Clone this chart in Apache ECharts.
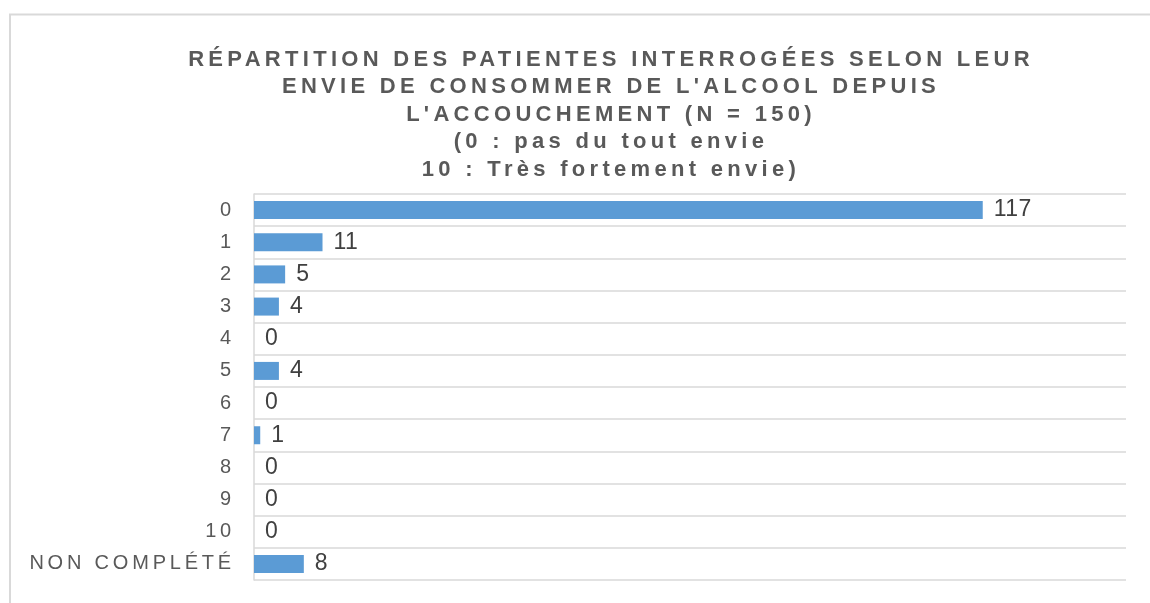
<!DOCTYPE html>
<html>
<head>
<meta charset="utf-8">
<script src="https://cdn.jsdelivr.net/npm/echarts@6/dist/echarts.min.js"></script>
<style>
  html, body { margin: 0; padding: 0; background: #fff; }
  #main { width: 1150px; height: 603px; }
</style>
</head>
<body>
<div id="main"></div>
<script>
// données
var categories = ['0', '1', '2', '3', '4', '5', '6', '7', '8', '9', '10', 'NON COMPLÉTÉ'];
var effectifs = [117, 11, 5, 4, 0, 4, 0, 1, 0, 0, 0, 8];
var titre = "RÉPARTITION DES PATIENTES INTERROGÉES SELON LEUR\nENVIE DE CONSOMMER DE L'ALCOOL DEPUIS\nL'ACCOUCHEMENT (N = 150)\n(0 : pas du tout envie\n10 : Très fortement envie)";

// espacement des caractères façon Excel (zrender ne gère pas letterSpacing)
var fillTextOrig = CanvasRenderingContext2D.prototype.fillText;
CanvasRenderingContext2D.prototype.fillText = function (t, x, y, w) {
    var m = /(\d+)px/.exec(this.font);
    var size = m ? +m[1] : 12;
    var ls = '0px';
    if (this.font.indexOf('bold') > -1) ls = '4.3px';   // titre
    else if (size == 20) ls = '3.8px';                 // libellés des catégories
    else if (size == 23) ls = '0.5px';                 // étiquettes de valeurs
    this.letterSpacing = ls;
    if (w === undefined) fillTextOrig.call(this, t, x, y);
    else fillTextOrig.call(this, t, x, y, w);
    this.letterSpacing = '0px';
};

var myChart = echarts.init(document.getElementById('main'), null, {renderer: 'canvas'});
var option = {
    backgroundColor: '#fff',
    animation: false,
    title: {
        text: titre,
        left: 611,
        top: 46,
        padding: 0,
        textAlign: 'center',
        textStyle: {
            fontFamily: 'Liberation Sans',
            fontSize: 22,
            fontWeight: 'bold',
            color: '#595959',
            lineHeight: 27.5
        }
    },
    graphic: [{
        type: 'rect',
        shape: {x: 10, y: 14.5, width: 1300, height: 700},
        style: {fill: 'none', stroke: '#d9d9d9', lineWidth: 2},
        silent: true
    }],
    grid: {left: 254, top: 194, right: 24, bottom: 23, containLabel: false},
    xAxis: {
        type: 'value',
        min: 0,
        max: 140,
        show: false
    },
    yAxis: {
        type: 'category',
        inverse: true,
        data: categories,
        axisLine: {show: true, lineStyle: {color: '#d9d9d9', width: 1.5}},
        axisTick: {show: false},
        splitLine: {show: true, lineStyle: {color: '#d9d9d9', width: 1.5}},
        axisLabel: {
            margin: 19,
            fontFamily: 'Liberation Sans',
            fontSize: 20,
            color: '#595959'
        }
    },
    series: [{
        type: 'bar',
        data: effectifs,
        barWidth: 18,
        itemStyle: {color: '#5b9bd5'},
        label: {
            show: true,
            position: 'right',
            distance: 11,
            fontFamily: 'Liberation Sans',
            fontSize: 23,
            color: '#404040'
        }
    }]
};
myChart.setOption(option);
</script>
</body>
</html>
